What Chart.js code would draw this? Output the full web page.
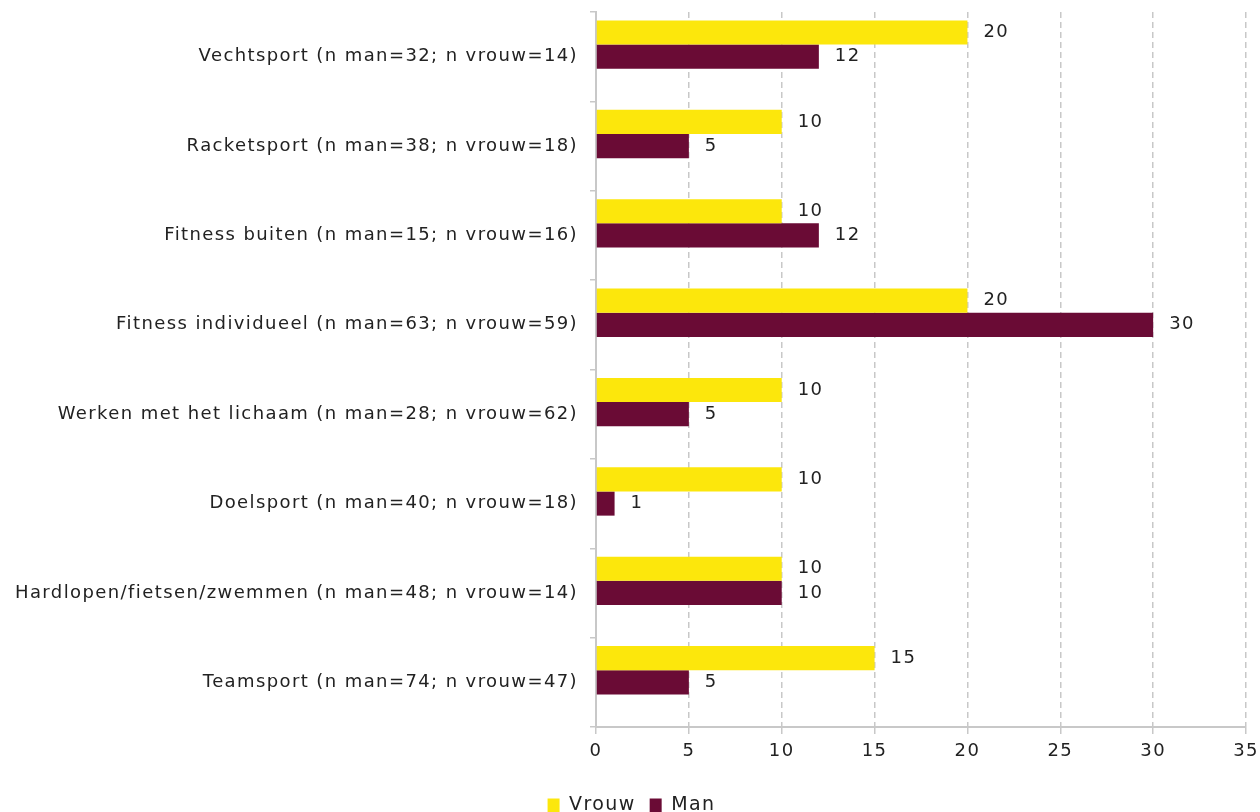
<!DOCTYPE html>
<html>
<head>
<meta charset="utf-8">
<script src="https://cdn.jsdelivr.net/npm/chart.js@4"></script>
<style>
  html, body { margin: 0; padding: 0; background: #fff; }
  .wrap { width: 1260px; height: 812px; position: relative; }
</style>
</head>
<body>
<div class="wrap"><canvas id="sportChart"></canvas></div>
<script>
(function () {
    "use strict";

    const categories = [
        "Vechtsport (n man=32; n vrouw=14)",
        "Racketsport (n man=38; n vrouw=18)",
        "Fitness buiten (n man=15; n vrouw=16)",
        "Fitness individueel (n man=63; n vrouw=59)",
        "Werken met het lichaam (n man=28; n vrouw=62)",
        "Doelsport (n man=40; n vrouw=18)",
        "Hardlopen/fietsen/zwemmen (n man=48; n vrouw=14)",
        "Teamsport (n man=74; n vrouw=47)",
    ];
    const vrouw = [20, 10, 10, 20, 10, 10, 10, 15];
    const man = [12, 5, 12, 30, 5, 1, 10, 5];
    const xTicks = [0, 5, 10, 15, 20, 25, 30, 35];

    const FONT = "'DejaVu Sans', sans-serif";
    const TEXT = "#222222";
    const AXIS = "#c8c8c8";
    const SPACING = "1.4px";

    // Slightly tracked lettering for all chart text
    const tracking = {
        id: "tracking",
        beforeUpdate(chart) {
            chart.ctx.letterSpacing = SPACING;
        },
        beforeDraw(chart) {
            chart.ctx.letterSpacing = SPACING;
        },
    };

    // Draws the value next to the end of every bar
    const valueLabels = {
        id: "valueLabels",
        afterDatasetsDraw(chart) {
            const ctx = chart.ctx;
            ctx.save();
            ctx.letterSpacing = SPACING;
            ctx.font = "18px " + FONT;
            ctx.fillStyle = TEXT;
            ctx.textAlign = "left";
            ctx.textBaseline = "middle";
            chart.data.datasets.forEach((ds, i) => {
                if (ds.spacer) return;
                chart.getDatasetMeta(i).data.forEach((bar, j) => {
                    ctx.fillText(String(ds.data[j]), bar.x + 16, bar.y);
                });
            });
            ctx.restore();
        },
    };

    const barOpts = { categoryPercentage: 0.81, barPercentage: 1 };

    new Chart(document.getElementById("sportChart"), {
        type: "bar",
        data: {
            labels: categories,
            datasets: [
                { label: "Vrouw", data: vrouw, backgroundColor: "#fce70c", ...barOpts },
                { label: "Man", data: man, backgroundColor: "#6a0b35", ...barOpts },
                // empty slot so the bar pair sits in the upper part of each band
                { label: "", spacer: true, data: categories.map(() => null), ...barOpts },
            ],
        },
        options: {
            indexAxis: "y",
            responsive: true,
            maintainAspectRatio: false,
            animation: false,
            layout: {
                padding: { top: 12, right: 0, left: 3, bottom: -13 },
            },
            plugins: {
                legend: {
                    position: "bottom",
                    labels: {
                        boxWidth: 12,
                        boxHeight: 14,
                        padding: 14,
                        color: TEXT,
                        font: { family: FONT, size: 19 },
                        filter: (item, data) => !data.datasets[item.datasetIndex].spacer,
                    },
                },
                tooltip: { enabled: false },
            },
            scales: {
                x: {
                    min: 0,
                    max: 35,
                    afterBuildTicks(scale) {
                        scale.ticks = xTicks.map((v) => ({ value: v }));
                    },
                    afterFit(scale) {
                        scale.height = 55;
                        scale.paddingRight = 14;
                    },
                    ticks: {
                        color: TEXT,
                        padding: 7,
                        font: { family: FONT, size: 18 },
                    },
                    grid: {
                        color: AXIS,
                        lineWidth: 1.5,
                        tickLength: 7,
                    },
                    border: {
                        color: AXIS,
                        width: 2,
                        dash: [6, 4],
                    },
                },
                y: {
                    afterFit(scale) {
                        // category labels sit mid-band, no overhang needed
                        scale.paddingTop = 0;
                        scale.paddingBottom = 0;
                    },
                    ticks: {
                        color: TEXT,
                        padding: 12,
                        font: { family: FONT, size: 18 },
                    },
                    grid: {
                        drawOnChartArea: false,
                        color: AXIS,
                        lineWidth: 1.5,
                        tickLength: 6,
                    },
                    border: {
                        color: AXIS,
                        width: 2,
                    },
                },
            },
        },
        plugins: [tracking, valueLabels],
    });
})();
</script>
</body>
</html>
